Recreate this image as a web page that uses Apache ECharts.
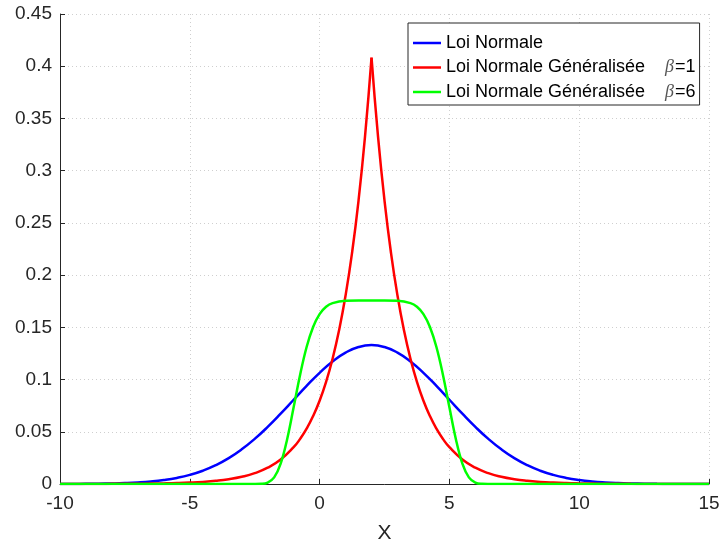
<!DOCTYPE html>
<html>
<head>
<meta charset="utf-8">
<script src="https://cdn.jsdelivr.net/npm/echarts@6/dist/echarts.min.js"></script>
<style>
html,body{margin:0;padding:0;background:#fff;}
#chart{width:721px;height:545px;}
</style>
</head>
<body>
<div id="chart"></div>
<script>
// ---- data ----
const seriesNames = ['Loi Normale', 'Loi Normale Généralisée β=1', 'Loi Normale Généralisée β=6'];

const normalX = [-10,-9.5,-9,-8.5,-8,-7.5,-7,-6.5,-6,-5.5,-5,-4.5,-4,-3.5,-3,-2.5,-2,-1.5,-1,-0.5,0,0.5,1,1.5,2,2.5,3,3.5,4,4.5,5,5.5,6,6.5,7,7.5,8,8.5,9,9.5,10,10.5,11,11.5,12,12.5,13,13.5,14,14.5,15];
const normalY = [0.00004,0.00009,0.00016,0.00029,0.00051,0.00088,0.00148,0.00240,0.00380,0.00584,0.00874,0.01272,0.01800,0.02477,0.03316,0.04317,0.05467,0.06733,0.08066,0.09397,0.10648,0.11735,0.12579,0.13115,0.13298,0.13115,0.12579,0.11735,0.10648,0.09397,0.08066,0.06733,0.05467,0.04317,0.03316,0.02477,0.01800,0.01272,0.00874,0.00584,0.00380,0.00240,0.00148,0.00088,0.00051,0.00029,0.00016,0.00009,0.00004,0.00002,0.00001];

const laplaceX = [-10,-9.5,-9,-8.5,-8,-7.5,-7,-6.5,-6,-5.5,-5,-4.5,-4,-3.5,-3,-2.5,-2,-1.5,-1,-0.75,-0.5,-0.25,0,0.25,0.5,0.75,1,1.25,1.5,1.75,2,2.25,2.5,2.75,3,3.25,3.5,3.75,4,4.25,4.5,4.75,5,5.5,6,6.5,7,7.5,8,8.5,9,9.5,10,10.5,11,11.5,12,12.5,13,13.5,14,14.5,15];
const laplaceY = [0.00002,0.00003,0.00005,0.00008,0.00012,0.00018,0.00026,0.00040,0.00059,0.00089,0.00135,0.00202,0.00304,0.00458,0.00689,0.01036,0.01558,0.02343,0.03525,0.04323,0.05302,0.06503,0.07975,0.09781,0.11996,0.14712,0.18044,0.22130,0.27141,0.33287,0.40825,0.33287,0.27141,0.22130,0.18044,0.14712,0.11996,0.09781,0.07975,0.06503,0.05302,0.04323,0.03525,0.02343,0.01558,0.01036,0.00689,0.00458,0.00304,0.00202,0.00135,0.00089,0.00059,0.00040,0.00026,0.00018,0.00012,0.00008,0.00005,0.00003,0.00002,0.00002,0.00001];

const flatX = [-10,-5,-3,-2.5,-2.25,-2,-1.75,-1.5,-1.25,-1,-0.75,-0.5,-0.25,0,0.25,0.5,1,1.5,2,2.5,3,3.5,3.75,4,4.25,4.5,4.75,5,5.25,5.5,5.75,6,6.25,6.5,7,10,15];
const flatY = [0,0,0,0.00001,0.00015,0.00131,0.00631,0.01950,0.04291,0.07344,0.10469,0.13113,0.15035,0.16265,0.16965,0.17320,0.17537,0.17558,0.17558,0.17558,0.17537,0.17320,0.16965,0.16265,0.15035,0.13113,0.10469,0.07344,0.04291,0.01950,0.00631,0.00131,0.00015,0.00001,0,0,0];

const lineColors = ['#0000ff', '#ff0000', '#00ff00'];

// ---- build chart ----
function pairs(xs, ys) { return xs.map((x, i) => [x, ys[i]]); }
const peak = laplaceY.indexOf(Math.max.apply(null, laplaceY));
const lapPairs = pairs(laplaceX, laplaceY);

const AX = '#262626';
const FONT = "'Liberation Sans', Arial, sans-serif";

function lineSeries(name, data, color, smooth) {
  return {
    name: name, type: 'line', data: data, smooth: smooth,
    symbol: 'none', showSymbol: false, animation: false,
    lineStyle: { color: color, width: 2.5 },
    itemStyle: { color: color }
  };
}

const chart = echarts.init(document.getElementById('chart'), null, { renderer: 'canvas' });
chart.setOption({
  animation: false,
  backgroundColor: '#fff',
  grid: { left: 60, right: 12, top: 14, bottom: 61, containLabel: false, outerBoundsMode: 'none' },
  xAxis: {
    type: 'value', min: -10, max: 15, interval: 5,
    name: 'X', nameLocation: 'middle', nameGap: 39,
    nameTextStyle: { fontFamily: FONT, fontSize: 21, color: AX },
    axisLine: { show: true, onZero: false, lineStyle: { color: AX, width: 1 } },
    axisTick: { show: true, inside: true, length: 5, lineStyle: { color: AX } },
    axisLabel: { fontFamily: FONT, fontSize: 19, color: AX, margin: 10 },
    splitLine: { show: true, lineStyle: { color: '#cfcfcf', type: [1, 3], width: 1 } }
  },
  yAxis: {
    type: 'value', min: 0, max: 0.45, interval: 0.05,
    axisLine: { show: true, onZero: false, lineStyle: { color: AX, width: 1 } },
    axisTick: { show: true, inside: true, length: 5, lineStyle: { color: AX } },
    axisLabel: { fontFamily: FONT, fontSize: 19, color: AX, margin: 8 },
    splitLine: { show: true, lineStyle: { color: '#cfcfcf', type: [1, 3], width: 1 } }
  },
  legend: {
    data: seriesNames,
    orient: 'vertical',
    left: 408, top: 23,
    padding: [10, 4, 3, 5],
    itemGap: 4.5,
    icon: 'rect',
    itemWidth: 28, itemHeight: 2.5,
    backgroundColor: '#fff',
    borderColor: AX, borderWidth: 1, borderRadius: 0,
    selectedMode: false,
    formatter: function (name) {
      const m = name.match(/^(.*) β(=.*)$/);
      if (!m) return '{n|' + name + '}';
      return '{n|' + m[1] + '}{b|β}{n|' + m[2] + '}';
    },
    textStyle: {
      lineHeight: 20,
      rich: {
        n: { fontFamily: FONT, fontSize: 18, color: '#000', lineHeight: 20 },
        b: { fontFamily: "'Liberation Serif', serif", fontStyle: 'italic', fontSize: 18, color: '#555', lineHeight: 20, padding: [0, 1, 0, 20] }
      }
    }
  },
  series: [
    lineSeries(seriesNames[0], pairs(normalX, normalY), lineColors[0], true),
    lineSeries(seriesNames[1], lapPairs.slice(0, peak + 1), lineColors[1], true),
    lineSeries(seriesNames[1], lapPairs.slice(peak), lineColors[1], true),
    lineSeries(seriesNames[2], pairs(flatX, flatY), lineColors[2], 0.4)
  ]
});
</script>
</body>
</html>
